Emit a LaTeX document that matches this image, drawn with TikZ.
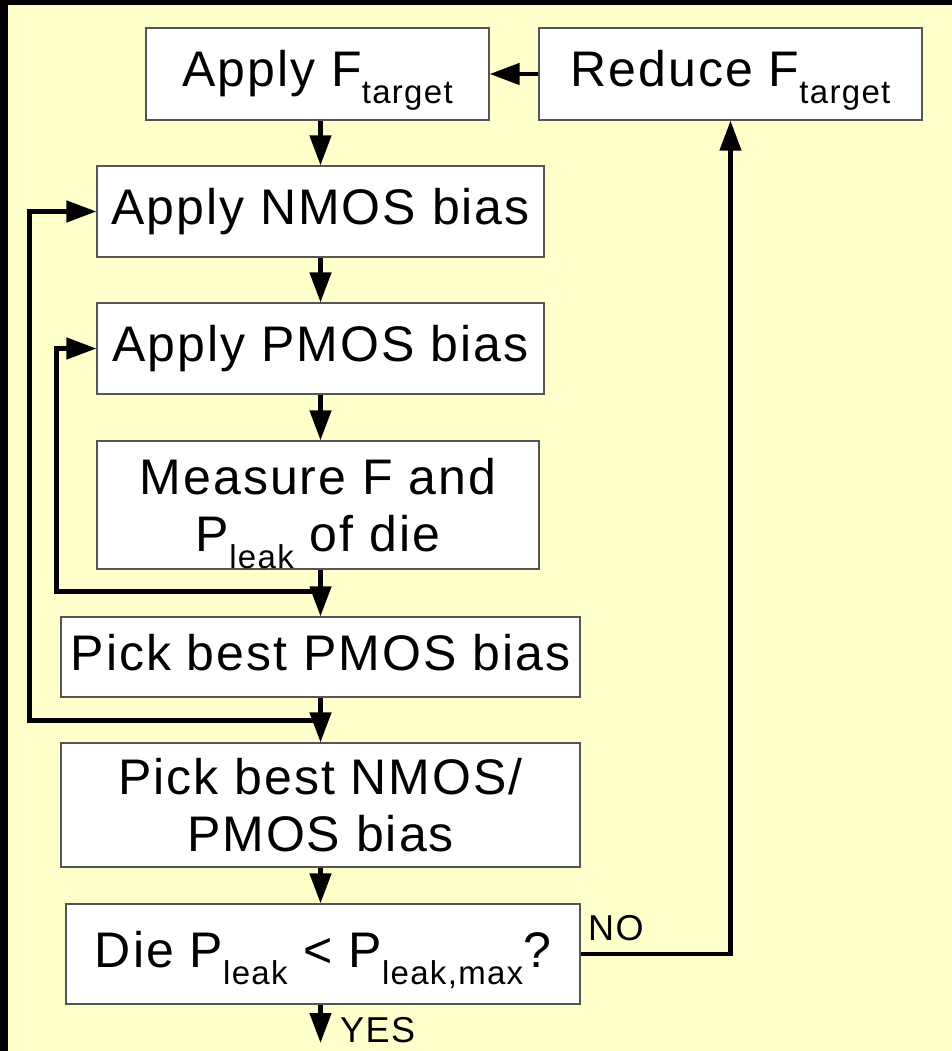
\documentclass[tikz,border=0pt]{standalone}
\usepackage{fontspec}
\setmainfont{Liberation Sans}[LetterSpace=4]
\usetikzlibrary{arrows.meta,calc}
\definecolor{paper}{HTML}{FFFFCC}
\definecolor{edge}{HTML}{555555}
\tikzset{%
	stepbox/.style={draw=edge, line width=1.2pt, fill=white, inner sep=0pt,
		align=center, font=\fontsize{50}{57}\selectfont},
	oneline/.style={text height=36pt, text depth=10pt},
	flow/.style={line width=4.5pt, -{Triangle[length=30pt,width=21pt]}}
}
\newcommand\lowsub[1]{\raisebox{-17pt}[0pt][0pt]{\fontsize{33}{33}\selectfont #1}}

\begin{document}
\begin{tikzpicture}[x=1pt, y=-1pt, tag/.style={font=\fontsize{36}{36}\selectfont, inner sep=0pt, anchor=base west}]
				\fill [black] (0,0) rectangle (952,1051);
				\fill [paper] (8,5) rectangle (952,1051);
				\useasboundingbox (0,0) rectangle (952,1051);
				\node [stepbox, oneline, minimum width=343, minimum height=92] (fbox) at (317.5, 74) {Apply F\lowsub{target}};
				\node [stepbox, oneline, minimum width=383, minimum height=92] (reduce) at (730.5, 74) {Reduce F\lowsub{target}};
				\node [stepbox, oneline, minimum width=447, minimum height=91] (nmos) at (320.5, 211.5) {Apply NMOS bias};
				\node [stepbox, oneline, minimum width=447, minimum height=91] (pmos) at (320.5, 348.5) {Apply PMOS bias};
				\node [stepbox, minimum width=442, minimum height=128] (measure) at (318, 505) {Measure F and\\P\lowsub{leak} of die};
				\node [stepbox, oneline, minimum width=519, minimum height=80] (pickp) at (320.5, 657) {Pick best PMOS bias};
				\node [stepbox, minimum width=519, minimum height=124] (picknp) at (320.5, 805) {Pick best NMOS/\\PMOS bias};
				\node [stepbox, oneline, minimum width=514, minimum height=100] (die) at (323, 954) {Die P\lowsub{leak} < P\lowsub{leak,max}?};
				\node [tag] (no) at (588, 940) {NO};
				\node [tag] (yes) at (340, 1042) {YES};
				\coordinate (out) at (320.5, 1043);
				\coordinate (jp) at ($(pickp.north)+(0,-25)$);
				\coordinate (jn) at ($(picknp.north)+(0,-22)$);
				\draw [flow] (reduce.west) -- (fbox.east);
				\draw [flow] (fbox.south -| nmos.north) -- (nmos.north);
				\draw [flow] (nmos.south) -- (pmos.north);
				\draw [flow] (pmos.south) -- (pmos.south |- measure.north);
				\draw [flow] (measure.south -| pickp.north) -- (pickp.north);
				\draw [flow] (pickp.south) -- (picknp.north);
				\draw [flow] (picknp.south) -- (picknp.south |- die.north);
				\draw [flow] (die.south -| out) -- (out);
				\draw [flow] (jp) -- ++(-264,0) |- (pmos.west);
				\draw [flow] (jn) -- ++(-291,0) |- (nmos.west);
				\draw [flow] (die.east) -| (reduce.south);
			\end{tikzpicture}
\end{document}
